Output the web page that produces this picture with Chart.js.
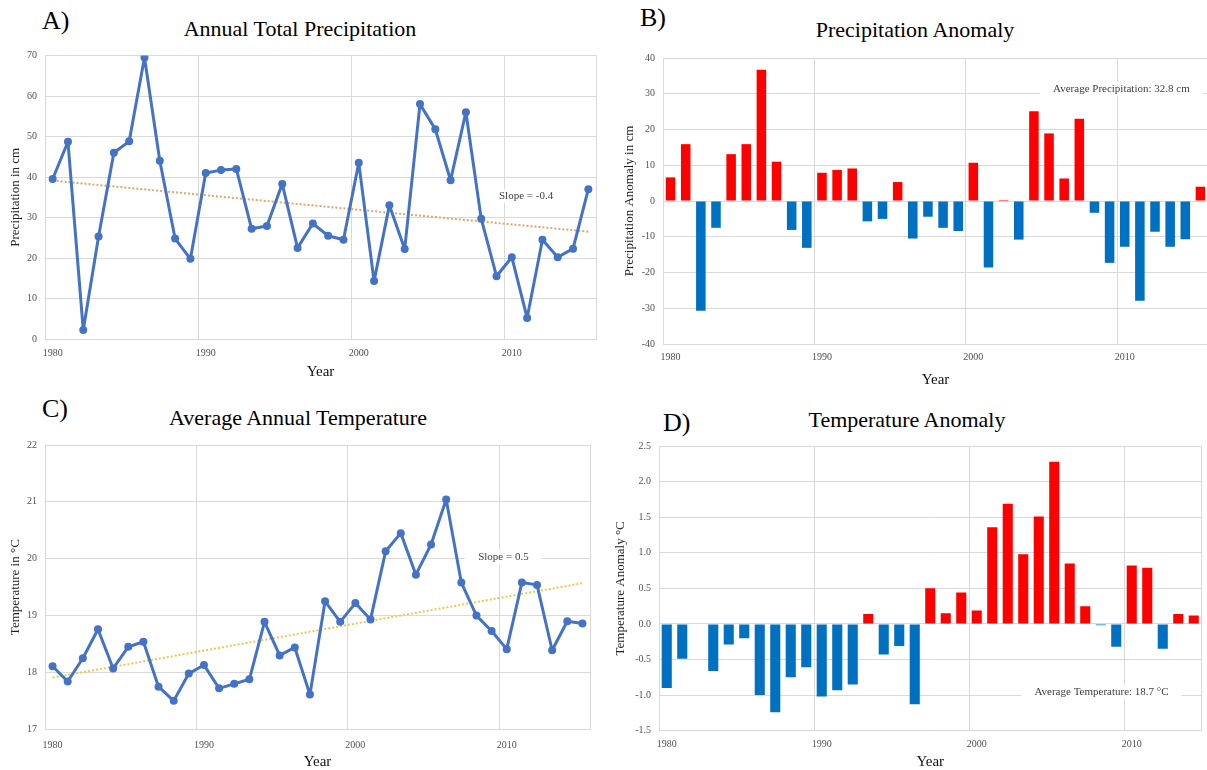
<!DOCTYPE html>
<html lang="en">
<head>
  <meta charset="UTF-8" />
  <title>Precipitation and Temperature</title>
  <script src="https://cdn.jsdelivr.net/npm/chart.js"></script>
  <style>
    body { margin: 0; width: 1207px; height: 770px; overflow: hidden; background: #fff; position: relative;
           font-family: 'Liberation Serif', 'Times New Roman', serif; }
    canvas { position: absolute; }
    .lbl { position: absolute; font-size: 26px; line-height: 1; color: #000; }
    .ttl { position: absolute; font-size: 22px; line-height: 1; color: #000; width: 400px; text-align: center; white-space: nowrap; }
  </style>
</head>
<body>
  <div class="lbl" style="left:42px; top:8px;">A)</div>
  <div class="ttl" style="left:100px; top:18px;">Annual Total Precipitation</div>
  <div class="lbl" style="left:640px; top:5px;">B)</div>
  <div class="ttl" style="left:715px; top:19px;">Precipitation Anomaly</div>
  <div class="lbl" style="left:42px; top:396px;">C)</div>
  <div class="ttl" style="left:98px; top:407px;">Average Annual Temperature</div>
  <div class="lbl" style="left:663px; top:410px;">D)</div>
  <div class="ttl" style="left:707px; top:409px;">Temperature Anomaly</div>

  <canvas id="chartA" width="610" height="350" style="left:0px; top:40px;"></canvas>
  <canvas id="chartB" width="605" height="350" style="left:605px; top:40px;"></canvas>
  <canvas id="chartC" width="610" height="345" style="left:0px; top:430px;"></canvas>
  <canvas id="chartD" width="605" height="345" style="left:605px; top:430px;"></canvas>

  <script>
    // datos
    const years = ["1980", "1981", "1982", "1983", "1984", "1985", "1986", "1987", "1988", "1989",
                   "1990", "1991", "1992", "1993", "1994", "1995", "1996", "1997", "1998", "1999",
                   "2000", "2001", "2002", "2003", "2004", "2005", "2006", "2007", "2008", "2009",
                   "2010", "2011", "2012", "2013", "2014", "2015"];
    const yearsTempAnomaly = years.slice(0, 35);
    const yearTicks = ["1980", "1990", "2000", "2010"];

    const precip = [39.5, 48.7, 2.2, 25.3, 46.0, 48.8, 69.5, 44.0, 24.8, 19.8,
                    41.0, 41.7, 42.0, 27.2, 27.9, 38.3, 22.5, 28.5, 25.5, 24.5,
                    43.5, 14.3, 33.0, 22.2, 58.0, 51.8, 39.2, 56.0, 29.7, 15.5,
                    20.2, 5.2, 24.5, 20.2, 22.3, 37.0];
    const precipTrend = [39.1, 26.5];

    const precipAnomaly = [6.6, 15.9, -30.7, -7.5, 13.1, 15.9, 36.7, 11.0, -8.1, -13.1,
                           7.9, 8.7, 9.1, -5.7, -5.0, 5.3, -10.5, -4.4, -7.5, -8.4,
                           10.7, -18.6, 0.3, -10.8, 25.1, 18.9, 6.3, 23.0, -3.3, -17.3,
                           -12.8, -27.9, -8.6, -12.8, -10.7, 4.0];

    const temp = [18.11, 17.84, 18.25, 18.76, 18.07, 18.45, 18.54, 17.75, 17.50, 17.98,
                  18.13, 17.72, 17.80, 17.88, 18.89, 18.30, 18.44, 17.61, 19.25, 18.89,
                  19.22, 18.93, 20.13, 20.45, 19.72, 20.25, 21.04, 19.58, 19.00, 18.73,
                  18.41, 19.58, 19.54, 18.39, 18.90, 18.86];
    const tempTrend = [17.91, 19.57];

    const tempAnomaly = [-0.90, -0.49, null, -0.66, -0.29, -0.20, -1.00, -1.24, -0.75, -0.61,
                         -1.02, -0.93, -0.85, 0.14, -0.43, -0.31, -1.13, 0.50, 0.15, 0.44,
                         0.19, 1.36, 1.69, 0.98, 1.51, 2.28, 0.85, 0.25, -0.02, -0.32,
                         0.82, 0.79, -0.35, 0.14, 0.12];

    const GRID = "#d9d9d9";
    const TICK = "#505050";
    const BLUE_LINE = "#4472c4";
    const RED = "#ff0000";
    const BLUE = "#0070c0";

    Chart.defaults.font.family = "'Liberation Serif', 'Times New Roman', serif";
    Chart.defaults.animation = false;

    // ubica el area del grafico donde esta en la imagen
    function frame(box, plot, yTitleX, xTitleY) {
      const yHalf = 13 * 1.2 / 2, xHalf = 15 * 1.2 / 2;
      const padLeft = yTitleX - yHalf - box.left;
      return {
        padding: {
          left: padLeft,
          top: plot.t - box.top,
          right: box.left + box.w - plot.r,
          bottom: box.top + box.h - (xTitleY + xHalf),
        },
        yWidth: plot.l - box.left - padLeft,
        xHeight: xTitleY + xHalf - plot.b,
      };
    }

    function xAxis(labels, f, tickPad) {
      return {
        type: "category",
        labels: labels,
        offset: true,
        grid: {
          offset: true,
          drawTicks: false,
          color: (c) => (c.index === undefined || c.index % 10 === 0) ? GRID : "rgba(0,0,0,0)",
        },
        border: { color: GRID },
        ticks: {
          autoSkip: false, maxRotation: 0, minRotation: 0, padding: tickPad,
          color: TICK, font: { size: 10 },
          callback: (v, i) => yearTicks.includes(labels[i]) ? labels[i] : "",
        },
        title: { display: true, text: "Year", color: "#111", font: { size: 15 }, padding: 0 },
        afterFit: (s) => { s.height = f.xHeight; },
      };
    }

    function yAxis(min, max, step, text, f, fmt) {
      return {
        min: min, max: max,
        grid: { color: GRID, drawTicks: false },
        border: { color: GRID },
        ticks: { stepSize: step, padding: 8, color: TICK, font: { size: 10 }, callback: fmt },
        title: { display: true, text: text, color: "#222", font: { size: 13 }, padding: 0 },
        afterFit: (s) => { s.width = f.yWidth; },
      };
    }

    // texto con fondo blanco (Slope, Average ...)
    const notePlugin = {
      id: "note",
      beforeDatasetsDraw(chart, args, opts) {
        const { ctx, scales } = chart;
        const px = scales.x.getPixelForValue(opts.at[0]);
        const py = scales.y.getPixelForValue(opts.at[1]);
        ctx.save();
        ctx.font = "11px 'Liberation Serif', serif";
        const w = ctx.measureText(opts.text).width;
        ctx.fillStyle = "#fff";
        ctx.fillRect(px - w / 2 - 13, py - 7, w + 26, 14);
        ctx.fillStyle = "#404040";
        ctx.textAlign = "center";
        ctx.textBaseline = "middle";
        ctx.fillText(opts.text, px, py);
        ctx.restore();
      },
    };

    const barColor = (c) => (c.raw >= 0 ? RED : BLUE);

    // A) precipitacion total
    const fA = frame({ left: 0, top: 40, w: 610, h: 350 }, { l: 45, t: 55.5, r: 596, b: 339 }, 16, 372);
    new Chart(document.getElementById("chartA"), {
      type: "line",
      data: {
        datasets: [
          {
            data: precip.map((v, i) => ({ x: years[i], y: v })),
            borderColor: BLUE_LINE, backgroundColor: BLUE_LINE, borderJoinStyle: "round",
            borderWidth: 3, pointRadius: 4, pointBorderWidth: 0, tension: 0, order: 0,
          },
          {
            data: [{ x: years[0], y: precipTrend[0] }, { x: years[years.length - 1], y: precipTrend[1] }],
            borderColor: "#e3a468", borderWidth: 2, borderDash: [2, 2], pointRadius: 0, order: 1,
          },
        ],
      },
      options: {
        responsive: false,
        layout: { padding: fA.padding },
        scales: {
          x: xAxis(years, fA, 8),
          y: yAxis(0, 70, 10, "Precipitation in cm", fA),
        },
        plugins: { legend: { display: false }, tooltip: { enabled: false }, note: { text: "Slope = -0.4", at: [30.93, 35.3] } },
      },
      plugins: [notePlugin],
    });

    // B) anomalia de precipitacion
    const fB = frame({ left: 605, top: 40, w: 605, h: 350 }, { l: 663, t: 58, r: 1208, b: 344 }, 630, 380);
    new Chart(document.getElementById("chartB"), {
      type: "bar",
      data: {
        labels: years,
        datasets: [{ data: precipAnomaly, backgroundColor: barColor, categoryPercentage: 1, barPercentage: 0.63 }],
      },
      options: {
        responsive: false,
        layout: { padding: fB.padding },
        scales: {
          x: xAxis(years, fB, 7),
          y: yAxis(-40, 40, 10, "Precipitation Anomaly in cm", fB),
        },
        plugins: { legend: { display: false }, tooltip: { enabled: false }, note: { text: "Average Precipitation: 32.8 cm", at: [29.78, 31.3] } },
      },
      plugins: [notePlugin],
    });

    // C) temperatura media anual
    const fC = frame({ left: 0, top: 430, w: 610, h: 345 }, { l: 45, t: 445, r: 590, b: 729.3 }, 15.5, 762);
    new Chart(document.getElementById("chartC"), {
      type: "line",
      data: {
        datasets: [
          {
            data: temp.map((v, i) => ({ x: years[i], y: v })),
            borderColor: BLUE_LINE, backgroundColor: BLUE_LINE, borderJoinStyle: "round",
            borderWidth: 3, pointRadius: 4, pointBorderWidth: 0, tension: 0, order: 0,
          },
          {
            data: [{ x: years[0], y: tempTrend[0] }, { x: years[years.length - 1], y: tempTrend[1] }],
            borderColor: "#efc64f", borderWidth: 2, borderDash: [2, 2], pointRadius: 0, order: 1,
          },
        ],
      },
      options: {
        responsive: false,
        layout: { padding: fC.padding },
        scales: {
          x: xAxis(years, fC, 10),
          y: yAxis(17, 22, 1, "Temperature in °C", fC),
        },
        plugins: { legend: { display: false }, tooltip: { enabled: false }, note: { text: "Slope = 0.5", at: [29.78, 20.03] } },
      },
      plugins: [notePlugin],
    });

    // D) anomalia de temperatura
    const fD = frame({ left: 605, top: 430, w: 605, h: 345 }, { l: 659, t: 446, r: 1201.5, b: 730.7 }, 621, 762);
    new Chart(document.getElementById("chartD"), {
      type: "bar",
      data: {
        labels: yearsTempAnomaly,
        datasets: [{ data: tempAnomaly, backgroundColor: barColor, categoryPercentage: 1, barPercentage: 0.65 }],
      },
      options: {
        responsive: false,
        layout: { padding: fD.padding },
        scales: {
          x: xAxis(yearsTempAnomaly, fD, 8),
          y: yAxis(-1.5, 2.5, 0.5, "Temperature Anomaly °C", fD, (v) => Number(v).toFixed(1)),
        },
        plugins: { legend: { display: false }, tooltip: { enabled: false }, note: { text: "Average Temperature: 18.7 °C", at: [28.05, -0.96] } },
      },
      plugins: [notePlugin],
    });
  </script>
</body>
</html>
